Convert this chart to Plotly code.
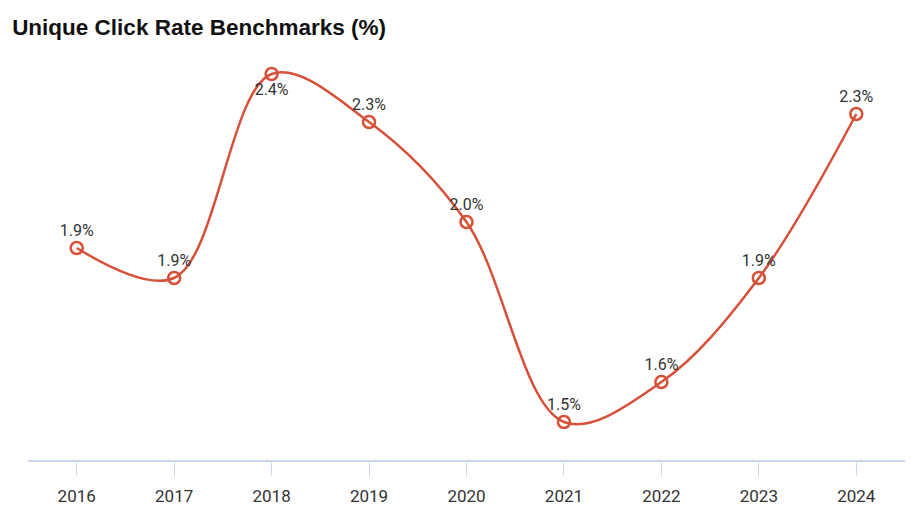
import plotly.graph_objects as go

years = ["2016", "2017", "2018", "2019", "2020", "2021", "2022", "2023", "2024"]
rates = [1.945, 1.87, 2.38, 2.26, 2.01, 1.51, 1.61, 1.87, 2.28]
label_pos = ["top center", "top center", "bottom center", "top center", "top center",
             "top center", "top center", "top center", "top center"]

line_color = "#d6503a"

fig = go.Figure()
fig.add_trace(go.Scatter(
    x=years, y=rates,
    mode="lines+markers+text",
    line=dict(color=line_color, width=2.5, shape="spline", smoothing=1.0),
    marker=dict(symbol="circle-open", size=12, color=line_color, line=dict(width=2.5, color=line_color)),
    text=[f"{v:.1f}%" for v in rates],
    textposition=label_pos,
    textfont=dict(family="Roboto, Arial, sans-serif", size=16, color="#333333"),
    cliponaxis=False,
    hoverinfo="x+y",
))

fig.update_layout(
    width=920, height=532,
    margin=dict(l=20, r=23, t=42, b=80),
    paper_bgcolor="white", plot_bgcolor="white",
    showlegend=False,
    title=dict(text="<b>Unique Click Rate Benchmarks (%)</b>", x=0.0045, xanchor="left",
               y=0.964, yanchor="middle",
               font=dict(family="Liberation Sans, Arial, sans-serif", size=22.5, color="#111111")),
    xaxis=dict(type="category", range=[-0.5, 8.5], showgrid=False, zeroline=False,
               showline=True, linecolor="#ccd6eb", linewidth=2,
               ticks="outside", ticklen=14, tickcolor="#ccd6eb", tickwidth=1,
               ticklabelstandoff=6,
               tickfont=dict(family="Roboto, Arial, sans-serif", size=17, color="#333333")),
    yaxis=dict(range=[1.415, 2.44], showgrid=False, zeroline=False, showticklabels=False,
               showline=False),
)

fig.write_html("out.html")
